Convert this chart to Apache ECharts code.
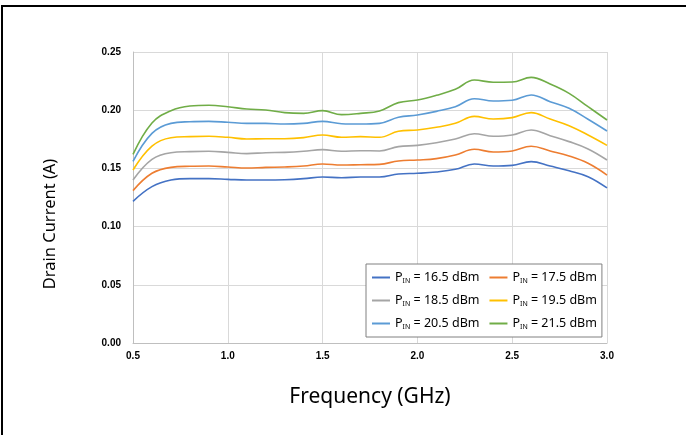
<!DOCTYPE html>
<html>
<head>
<meta charset="utf-8">
<script src="https://cdn.jsdelivr.net/npm/echarts@6/dist/echarts.min.js"></script>
<style>
  html, body { margin: 0; padding: 0; background: #fff; }
  #chart { width: 686px; height: 435px; }
</style>
</head>
<body>
<div id="chart"></div>
<script>
const frequencies = [0.5, 0.6, 0.7, 0.8, 0.9, 1.0, 1.1, 1.2, 1.3, 1.4, 1.5, 1.6, 1.7, 1.8, 1.9, 2.0, 2.1, 2.2, 2.3, 2.4, 2.5, 2.6, 2.7, 2.8, 2.9, 3.0];
const seriesNames = ['16.5 dBm', '17.5 dBm', '18.5 dBm', '19.5 dBm', '20.5 dBm', '21.5 dBm'];
const pin165 = [0.1217, 0.1343, 0.1400, 0.1412, 0.1412, 0.1406, 0.1400, 0.1400, 0.1403, 0.1412, 0.1426, 0.1420, 0.1426, 0.1426, 0.1452, 0.1458, 0.1469, 0.1492, 0.1538, 0.1520, 0.1526, 0.1558, 0.1520, 0.1480, 0.1429, 0.1332];
const pin175 = [0.1309, 0.1458, 0.1509, 0.1518, 0.1520, 0.1512, 0.1503, 0.1509, 0.1512, 0.1520, 0.1538, 0.1529, 0.1532, 0.1535, 0.1564, 0.1572, 0.1584, 0.1615, 0.1664, 0.1641, 0.1650, 0.1690, 0.1650, 0.1607, 0.1544, 0.1443];
const pin185 = [0.1400, 0.1578, 0.1635, 0.1644, 0.1647, 0.1638, 0.1627, 0.1635, 0.1638, 0.1647, 0.1661, 0.1647, 0.1652, 0.1650, 0.1687, 0.1698, 0.1721, 0.1753, 0.1798, 0.1776, 0.1787, 0.1830, 0.1781, 0.1730, 0.1667, 0.1572];
const pin195 = [0.1486, 0.1692, 0.1764, 0.1773, 0.1776, 0.1767, 0.1753, 0.1755, 0.1755, 0.1764, 0.1787, 0.1767, 0.1773, 0.1767, 0.1819, 0.1830, 0.1853, 0.1887, 0.1947, 0.1924, 0.1936, 0.1979, 0.1924, 0.1867, 0.1787, 0.1698];
const pin205 = [0.1560, 0.1801, 0.1887, 0.1901, 0.1904, 0.1896, 0.1887, 0.1887, 0.1881, 0.1887, 0.1904, 0.1884, 0.1881, 0.1887, 0.1939, 0.1959, 0.1990, 0.2030, 0.2099, 0.2079, 0.2085, 0.2131, 0.2073, 0.2016, 0.1922, 0.1821];
const pin215 = [0.1620, 0.1890, 0.1996, 0.2036, 0.2042, 0.2030, 0.2010, 0.2002, 0.1979, 0.1973, 0.1996, 0.1962, 0.1973, 0.1993, 0.2065, 0.2088, 0.2128, 0.2179, 0.2259, 0.2240, 0.2242, 0.2282, 0.2225, 0.2145, 0.2030, 0.1916];
const allValues = [pin165, pin175, pin185, pin195, pin205, pin215];
const colors = ['#4472C4', '#ED7D31', '#A5A5A5', '#FFC000', '#5B9BD5', '#70AD47'];
const xTitle = 'Frequency (GHz)';
const yTitle = 'Drain Current (A)';

const chart = echarts.init(document.getElementById('chart'), null, { renderer: 'canvas' });

const series = seriesNames.map((name, i) => ({
  name: name,
  type: 'line',
  smooth: 0.4,
  showSymbol: false,
  symbol: 'none',
  lineStyle: { width: 1.6, color: colors[i] },
  itemStyle: { color: colors[i] },
  data: frequencies.map((f, j) => [f, allValues[i][j]])
}));

const option = {
  animation: false,
  backgroundColor: '#fff',
  graphic: [{
    type: 'rect',
    shape: { x: 2, y: 6, width: 800, height: 600 },
    style: { fill: 'none', stroke: '#000', lineWidth: 2 },
    silent: true
  }, {
    type: 'text',
    x: 50, y: 224,
    rotation: Math.PI / 2,
    style: {
      text: yTitle,
      fontFamily: 'Noto Sans', fontSize: 16.5, fill: '#000',
      align: 'center', verticalAlign: 'middle'
    },
    silent: true
  }],
  grid: { left: 133, right: 79, top: 52, bottom: 92, containLabel: false },
  xAxis: {
    type: 'value',
    min: 0.5, max: 3.0, interval: 0.5,
    name: xTitle,
    nameLocation: 'middle',
    nameGap: 44,
    nameTextStyle: { fontFamily: 'Noto Sans', fontSize: 21, color: '#000' },
    axisLine: { show: true, lineStyle: { color: '#bfbfbf', width: 1 } },
    axisTick: { show: false },
    splitLine: { show: true, lineStyle: { color: '#d9d9d9', width: 1 } },
    axisLabel: {
      formatter: v => v.toFixed(1),
      fontFamily: 'Liberation Sans', fontWeight: 'bold', fontSize: 10, color: '#000', margin: 8
    }
  },
  yAxis: {
    type: 'value',
    min: 0, max: 0.25, interval: 0.05,
    axisLine: { show: true, lineStyle: { color: '#bfbfbf', width: 1 } },
    axisTick: { show: false },
    splitLine: { show: true, lineStyle: { color: '#d9d9d9', width: 1 } },
    axisLabel: {
      formatter: v => v.toFixed(2),
      fontFamily: 'Liberation Sans', fontWeight: 'bold', fontSize: 10, color: '#000', margin: 12
    }
  },
  legend: {
    left: 366, top: 264, width: 234,
    orient: 'horizontal',
    backgroundColor: '#fff',
    borderColor: '#808080', borderWidth: 1,
    padding: [7, 5, 7, 6],
    itemGap: 10,
    itemWidth: 18, itemHeight: 2,
    icon: 'rect',
    data: seriesNames,
    formatter: name => '{p|P}{s|IN}{t| = ' + name + '}',
    textStyle: {
      color: '#000',
      fontFamily: 'Noto Sans',
      fontSize: 12.5,
      rich: {
        p: { fontFamily: 'Noto Sans', fontSize: 12.5, color: '#000', lineHeight: 15 },
        s: { fontFamily: 'Noto Sans', fontSize: 7, color: '#000', padding: [6, 0, 0, 0], lineHeight: 15 },
        t: { fontFamily: 'Noto Sans', fontSize: 12.5, color: '#000', lineHeight: 15 }
      }
    }
  },
  series: series
};

chart.setOption(option);
</script>
</body>
</html>
